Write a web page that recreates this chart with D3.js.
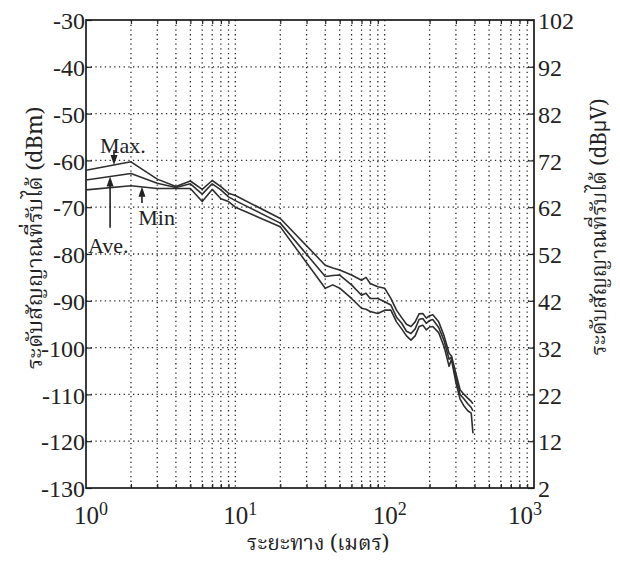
<!DOCTYPE html>
<html><head><meta charset="utf-8">
<script src="https://cdn.jsdelivr.net/npm/d3@7"></script>
<style>
body{margin:0;background:#fff}
text{font-family:"Liberation Serif","Times New Roman",serif;fill:#222}
.thai{font-family:"Noto Serif Thai","Noto Sans Thai","Loma","Garuda","Norasi","Tlwg Typo",serif}
</style>
</head><body>
<svg id="chart" width="620" height="561"></svg>
<script>
// distance from transmitter (m)
const distance = [1,2,3,4,5,6,7,8,9,10,20,40,45,50,60,70,75,80,90,100,110,120,130,140,150,160,170,180,190,200,210,230,250,270,280,300,320,340,360,380,390];
// received level (dBm)
const maxLevel = [-62.1,-60.3,-64.0,-65.6,-64.4,-66.2,-64.3,-65.6,-67.0,-67.5,-72.4,-82.4,-83.0,-83.4,-84.5,-85.6,-85.0,-86.3,-87.0,-87.3,-89.5,-92.0,-93.6,-95.0,-95.5,-94.5,-92.8,-92.7,-93.7,-93.2,-93.0,-94.5,-97.5,-101.2,-101.8,-105.5,-109.0,-110.0,-110.8,-111.5,-112.0];
const aveLevel = [-64.2,-62.8,-64.9,-65.8,-65.0,-67.2,-65.0,-66.3,-67.8,-68.6,-73.4,-84.8,-84.6,-84.5,-86.6,-88.8,-88.4,-89.5,-89.5,-90.2,-90.9,-93.5,-94.8,-96.5,-97.0,-96.0,-94.0,-93.8,-94.8,-94.2,-94.0,-95.7,-98.5,-102.5,-102.0,-106.5,-110.0,-111.0,-112.0,-112.8,-113.5];
const minLevel = [-66.3,-65.4,-66.0,-66.0,-66.0,-68.8,-66.2,-68.2,-68.8,-70.0,-74.2,-87.3,-86.6,-87.3,-89.5,-91.6,-91.8,-92.3,-92.7,-92.0,-92.0,-94.5,-96.0,-97.5,-98.4,-97.5,-95.5,-95.2,-96.2,-95.6,-95.5,-96.8,-99.8,-104.0,-102.5,-107.5,-111.0,-112.5,-113.5,-114.0,-118.3];

const dbmTicks = [-130,-120,-110,-100,-90,-80,-70,-60,-50,-40,-30];
const dbuvTicks = [2,12,22,32,42,52,62,72,82,92,102];
const decadeTicks = [1,10,100,1000];
const decadeExp = ["0","1","2","3"];

// annotation arrows: label, distance of the arrow, tail level (dBm), series it points at, label anchor
const notes = [
  {label:"Max.", d:1.54, tail:-57.8, series:maxLevel, tx:1.24, ty:-58.5},
  {label:"Ave.", d:1.45, tail:-74.4, series:aveLevel, tx:1.03, ty:-79.8},
  {label:"Min",  d:2.37, tail:-69.1, series:minLevel, tx:2.24, ty:-73.8}
];

const svg = d3.select("#chart");
const L = 86, R = 534, T = 20, B = 488;

const x = d3.scaleLog().domain([1,1000]).range([L,R]);
const y = d3.scaleLinear().domain([-130,-30]).range([B,T]);
const y2 = d3.scaleLinear().domain([2,102]).range([B,T]);

// minor log positions for the grid
const minor = [];
[1,10,100].forEach(p => { for (let k=2;k<=9;k++) minor.push(k*p); });
const gridX = minor.concat([10,100]);

const grid = svg.append("g").attr("stroke","#2a2a2a").attr("stroke-width",1.3)
  .attr("stroke-dasharray","1.3,3.4");
grid.selectAll("line.gx").data(gridX).join("line")
  .attr("x1",d=>x(d)).attr("x2",d=>x(d)).attr("y1",T).attr("y2",B);
grid.selectAll("line.gy").data(dbmTicks.slice(1,-1)).join("line")
  .attr("x1",L).attr("x2",R).attr("y1",d=>y(d)).attr("y2",d=>y(d));

// axes, ticks pointing inward
const axL = svg.append("g").attr("transform",`translate(${L},0)`)
  .call(d3.axisLeft(y).tickValues(dbmTicks).tickSize(-6).tickPadding(1).tickFormat(d=>d));
const axR = svg.append("g").attr("transform",`translate(${R},0)`)
  .call(d3.axisRight(y2).tickValues(dbuvTicks).tickSize(-6).tickPadding(4).tickFormat(d=>d));
const axB = svg.append("g").attr("transform",`translate(0,${B})`)
  .call(d3.axisBottom(x).tickValues(minor).tickSize(-4).tickFormat(""));
const axT = svg.append("g").attr("transform",`translate(0,${T})`)
  .call(d3.axisTop(x).tickValues(minor).tickSize(-4).tickFormat(""));
[axL,axR,axB,axT].forEach(a=>{
  a.select(".domain").remove();
  a.selectAll(".tick line").attr("stroke","#222").attr("stroke-width",1.2);
});
[axL,axR].forEach(a=>a.selectAll(".tick text")
  .style("font-family","'Liberation Serif',serif").style("font-size","24px").attr("fill","#222"));
axL.selectAll(".tick text").attr("dy","0.36em");
axR.selectAll(".tick text").attr("dy","0.36em");

// decade labels 10^n
const xl = svg.append("g").selectAll("text").data(decadeTicks).join("text")
  .attr("x",(d,i)=>x(d)+(i===decadeTicks.length-1?-26:-12))
  .attr("y",B+36).style("font-size","25px");
xl.append("tspan").text("10");
xl.append("tspan").text((d,i)=>decadeExp[i]).attr("dy",-9).style("font-size","18px");

// frame
svg.append("rect").attr("x",L).attr("y",T).attr("width",R-L).attr("height",B-T)
  .attr("fill","none").attr("stroke","#1a1a1a").attr("stroke-width",1.7);

// series
const line = d3.line().x(d=>x(d[0])).y(d=>y(d[1]));
[maxLevel,aveLevel,minLevel].forEach(s=>{
  svg.append("path").datum(distance.map((d,i)=>[d,s[i]]))
    .attr("d",line).attr("fill","none").attr("stroke","#2e2e2e").attr("stroke-width",1.6)
    .attr("stroke-linejoin","round");
});

// level on a series at distance d (linear in log-distance)
function levelAt(series,d){
  const i = d3.bisectRight(distance,d)-1;
  const t = (Math.log10(d)-Math.log10(distance[i]))/(Math.log10(distance[i+1])-Math.log10(distance[i]));
  return series[i]+t*(series[i+1]-series[i]);
}

// annotation arrows
notes.forEach(n=>{
  const px = x(n.d), tip = y(levelAt(n.series,n.d)), tail = y(n.tail);
  const dir = tip > tail ? 1 : -1;
  svg.append("line").attr("x1",px).attr("x2",px).attr("y1",tail).attr("y2",tip-dir*8)
    .attr("stroke","#222").attr("stroke-width",1.6);
  svg.append("path").attr("d",`M${px},${tip} L${px-3.5},${tip-dir*10} L${px+3.5},${tip-dir*10} Z`)
    .attr("fill","#222");
  svg.append("text").attr("x",x(n.tx)).attr("y",y(n.ty)).style("font-size","22px").text(n.label);
});

// axis titles
svg.append("text").attr("class","thai")
  .attr("transform",`translate(42,238) rotate(-90)`).attr("text-anchor","middle")
  .style("font-size","22px").text("ระดับสัญญาณที่รับได้ (dBm)");
svg.append("text").attr("class","thai")
  .attr("transform",`translate(606,227) rotate(-90)`).attr("text-anchor","middle")
  .style("font-size","21px").text("ระดับสัญญาณที่รับได้ (dBµV)");
svg.append("text").attr("class","thai")
  .attr("x",318).attr("y",550).attr("text-anchor","middle")
  .style("font-size","21px").text("ระยะทาง (เมตร)");
</script>
</body></html>
